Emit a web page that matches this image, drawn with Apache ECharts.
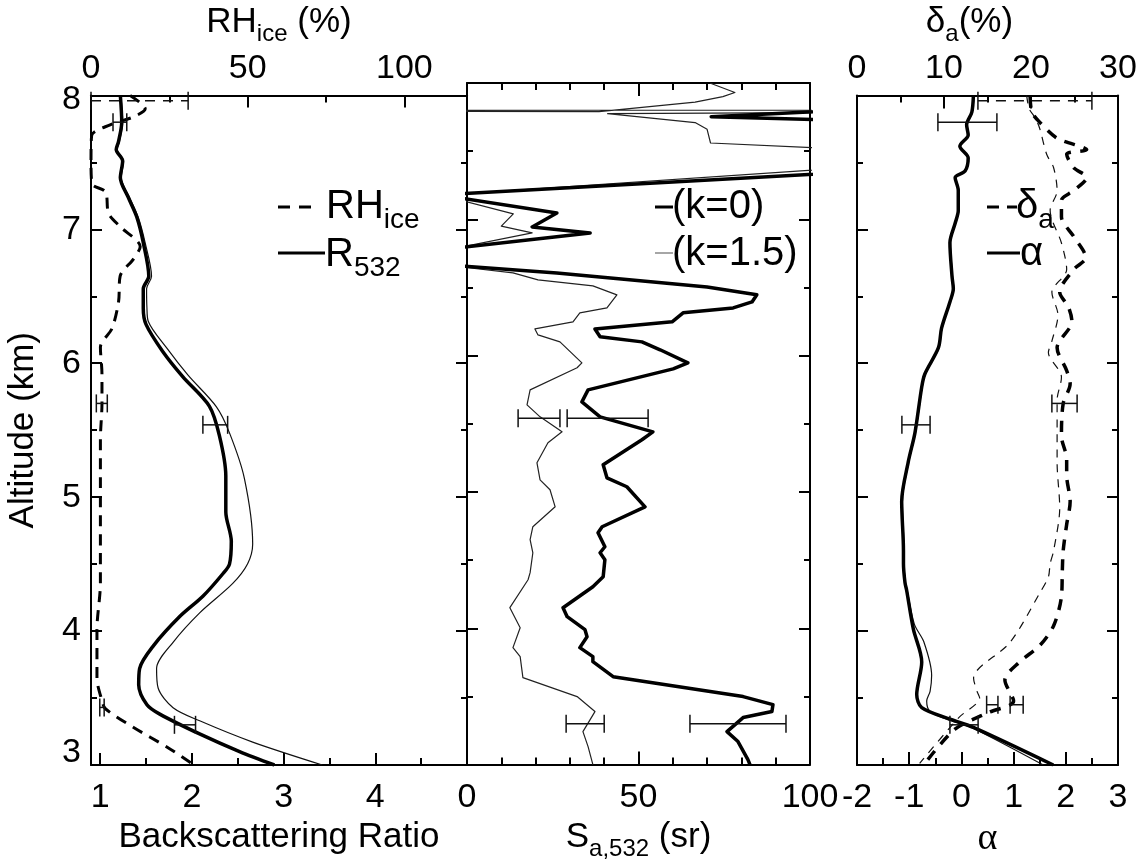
<!DOCTYPE html>
<html>
<head>
<meta charset="utf-8">
<title>Lidar profiles</title>
<script src="https://cdn.jsdelivr.net/npm/echarts@6/dist/echarts.min.js"></script>
<style>
  html, body { margin: 0; padding: 0; background: #fff; }
  #chart { width: 1142px; height: 866px; }
</style>
</head>
<body>
<div id="chart"></div>
<script>
// ---- Panel 1: backscattering ratio R532 and RH over ice, pairs are [value, altitude km]
const R532_K0 = [[1.22,8.0],[1.235,7.80],[1.20,7.655],[1.175,7.596],[1.245,7.51],[1.22,7.386],[1.305,7.24],[1.40,7.09],[1.47,6.90],[1.53,6.65],[1.47,6.556],[1.47,6.41],[1.50,6.29],[1.68,6.09],[1.90,5.90],[2.19,5.68],[2.30,5.46],[2.37,5.16],[2.37,4.89],[2.43,4.67],[2.41,4.50],[2.34,4.43],[2.12,4.26],[1.87,4.11],[1.58,3.89],[1.43,3.72],[1.42,3.60],[1.51,3.45],[1.65,3.38],[2.09,3.23],[2.52,3.10],[2.90,3.0]];
const R532_K15 = [[1.225,8.0],[1.245,7.80],[1.21,7.655],[1.185,7.596],[1.255,7.51],[1.23,7.386],[1.32,7.24],[1.415,7.09],[1.49,6.90],[1.56,6.65],[1.506,6.556],[1.51,6.41],[1.524,6.314],[1.723,6.116],[1.958,5.911],[2.266,5.676],[2.41,5.48],[2.573,5.139],[2.663,4.65],[2.608,4.503],[2.446,4.356],[2.085,4.136],[1.795,3.916],[1.615,3.721],[1.632,3.575],[1.795,3.428],[2.085,3.33],[2.663,3.171],[3.422,3.0]];
const RH_ICE = [[12.5,8.0],[17.3,7.90],[13.6,7.84],[6.1,7.78],[0.2,7.70],[0.0,7.51],[0.3,7.34],[4.6,7.28],[5.6,7.12],[9.3,7.02],[15.7,6.87],[13.6,6.78],[9.3,6.65],[8.8,6.46],[6.7,6.26],[3.0,6.12],[3.5,5.92],[3.5,5.70],[3.0,5.43],[3.0,5.09],[3.0,4.60],[3.0,4.36],[1.9,4.01],[1.9,3.65],[3.5,3.48],[4.6,3.42],[13.6,3.28],[24.2,3.135],[32.2,3.01]];
// error bars: [low, high, altitude]
const R532_ERR = [[1.14,1.29,7.80],[2.12,2.39,5.54],[1.81,2.04,3.30]];
const RH_ERR = [[1.7,5.2,5.70],[2.8,4.2,3.43]];
const RH_ERR_TOP = [[0,31,7.96]];

// ---- Panel 2: lidar ratio Sa,532 (sr)
const SA_K0 = [[150,7.85],[71.2,7.753],[150,7.70],[150,7.40],[-5,7.183],[-3,7.16],[26.2,7.047],[19.0,6.944],[35.9,6.900],[-3,6.79],[-3,6.66],[26.2,6.607],[70.0,6.504],[84.5,6.446],[83.1,6.394],[77.6,6.350],[63.0,6.314],[59.8,6.248],[37.3,6.196],[38.8,6.138],[51.0,6.101],[56.3,6.043],[64.4,5.947],[60.1,5.903],[35.3,5.749],[33.5,5.661],[38.8,5.551],[54.2,5.441],[51.0,5.383],[39.7,5.199],[40.8,5.104],[46.6,5.038],[51.9,4.891],[39.4,4.745],[38.2,4.701],[40.2,4.598],[38.8,4.554],[40.2,4.503],[39.7,4.378],[36.7,4.305],[28.0,4.151],[29.2,4.085],[34.4,3.990],[35.0,3.938],[32.9,3.858],[36.7,3.792],[36.7,3.755],[42.6,3.645],[80.5,3.499],[89.2,3.440],[88.9,3.389],[80.5,3.345],[75.8,3.242],[79.0,3.169],[81.9,3.037],[82.5,3.0]];
const SA_K15 = [[70.8,8.0],[78.1,7.93],[74.6,7.90],[66.5,7.86],[38.5,7.79],[-150,7.80],[250,7.80],[41.0,7.775],[66.5,7.71],[70.0,7.66],[71.0,7.56],[150,7.47],[130,7.411],[-10,7.173],[-5,7.16],[13.5,7.04],[10.0,6.95],[19.0,6.90],[-5,6.78],[-5,6.66],[13.4,6.607],[20.7,6.556],[36.7,6.512],[43.7,6.446],[40.8,6.350],[32.9,6.314],[30.9,6.248],[19.8,6.196],[20.7,6.152],[27.1,6.101],[33.5,5.947],[32.1,5.911],[18.4,5.749],[17.5,5.639],[21.3,5.551],[27.7,5.441],[23.6,5.361],[20.4,5.214],[21.3,5.089],[24.2,5.016],[25.7,4.891],[19.2,4.745],[18.4,4.650],[19.2,4.554],[18.4,4.408],[17.8,4.356],[12.5,4.151],[15.5,4.004],[13.4,3.858],[15.5,3.792],[16.3,3.638],[32.1,3.499],[37.3,3.389],[33.8,3.242],[35.3,3.132],[36.7,3.0]];
const SA_ERR_K0 = [[29.2,52.8,5.54],[65.0,93.0,3.30]];
const SA_ERR_K15 = [[14.9,27.1,5.54],[28.9,40.0,3.30]];

// ---- Panel 3: Angstrom exponent alpha and depolarization delta_a (%)
const ALPHA_K0 = [[0.23,8.0],[0.20,7.875],[0.10,7.78],[0.13,7.705],[-0.03,7.62],[0.13,7.533],[0.07,7.435],[-0.12,7.386],[-0.06,7.29],[-0.06,7.14],[-0.12,7.045],[-0.22,6.90],[-0.18,6.65],[-0.155,6.556],[-0.22,6.458],[-0.38,6.262],[-0.44,6.116],[-0.70,5.92],[-0.76,5.823],[-0.89,5.48],[-1.02,5.26],[-1.144,4.968],[-1.11,4.60],[-1.11,4.503],[-1.08,4.36],[-1.05,4.307],[-0.92,4.014],[-0.76,3.77],[-0.856,3.526],[-0.76,3.428],[-0.218,3.342],[0.23,3.281],[1.76,3.0]];
const ALPHA_K15 = [[0.24,8.0],[0.21,7.875],[0.11,7.78],[0.14,7.705],[-0.02,7.62],[0.14,7.533],[0.08,7.435],[-0.11,7.386],[-0.05,7.29],[-0.05,7.14],[-0.11,7.045],[-0.21,6.90],[-0.17,6.65],[-0.145,6.556],[-0.21,6.458],[-0.37,6.262],[-0.43,6.116],[-0.69,5.92],[-0.75,5.823],[-0.88,5.48],[-1.01,5.26],[-1.13,4.968],[-1.10,4.60],[-1.10,4.503],[-1.07,4.36],[-1.04,4.307],[-0.90,4.05],[-0.72,3.92],[-0.57,3.67],[-0.60,3.55],[-0.665,3.477],[-0.60,3.40],[-0.20,3.33],[0.22,3.275],[1.57,3.0]];
const DELTA_K0 = [[19.9,7.99],[20.1,7.875],[21.0,7.80],[23.0,7.68],[26.4,7.594],[24.1,7.56],[24.9,7.46],[26.4,7.387],[24.9,7.289],[23.5,7.216],[23.5,7.093],[24.9,6.947],[26.3,6.788],[24.9,6.70],[23.3,6.53],[24.3,6.42],[24.7,6.312],[23.0,6.116],[24.1,5.945],[24.5,5.847],[23.7,5.70],[23.5,5.456],[24.1,5.285],[24.1,5.163],[24.5,4.968],[24.1,4.796],[23.7,4.60],[23.6,4.45],[23.5,4.259],[22.6,4.04],[21.0,3.892],[18.7,3.77],[17.0,3.635],[18.0,3.477],[15.1,3.391],[11.3,3.269],[7.8,3.012]];
const DELTA_K15 = [[19.5,8.0],[19.8,7.90],[20.5,7.83],[21.0,7.753],[21.8,7.56],[22.6,7.46],[23.0,7.289],[22.2,7.142],[23.5,6.898],[24.1,6.70],[22.4,6.53],[23.1,6.36],[22.4,6.165],[22.0,6.08],[23.5,5.896],[23.0,5.725],[23.0,5.505],[23.0,5.26],[23.3,4.919],[22.6,4.60],[22.2,4.503],[22.0,4.405],[21.0,4.283],[17.6,3.916],[13.4,3.648],[13.8,3.55],[14.1,3.501],[11.7,3.354],[7.2,3.012]];
const ALPHA_ERR = [[-0.45,0.68,7.80],[-1.14,-0.60,5.54],[-0.22,0.32,3.30]];
const DELTA_ERR = [[22.4,25.3,5.70],[14.9,16.2,3.45],[17.6,19.1,3.45]];
const DELTA_ERR_TOP = [[13.9,27.0,7.96]];

// ---- tick positions
const R_TICKS = [1, 2, 3, 4, 5];
const R_LABELS = [1, 2, 3, 4];
const R_MINOR = [1.5, 2.5, 3.5, 4.5];
const RH_TICKS = [0, 50, 100];
const RH_MINOR = [25, 75];

const FONT = "'Liberation Sans', Arial, Helvetica, sans-serif";
const BLACK = '#000';
const LINE = { show: true, onZero: false, lineStyle: { color: BLACK, width: 2 } };
const TICK = (len, extra) => Object.assign({ show: true, inside: true, length: len, lineStyle: { color: BLACK, width: 2 } }, extra || {});
const MINOR = (n) => ({ show: true, splitNumber: n, length: 7, lineStyle: { color: BLACK, width: 2 } });
const LABEL = (margin, extra) => Object.assign({ show: true, margin: margin, fontSize: 34, color: BLACK, fontFamily: FONT }, extra || {});
// axis titles: main text plus a lowered, smaller subscript
const NAME_STYLE = {
  fontSize: 35, color: BLACK, fontFamily: FONT,
  rich: {
    m: { fontSize: 35, lineHeight: 48, fontFamily: FONT, color: BLACK },
    s: { fontSize: 24, verticalAlign: 'bottom', fontFamily: FONT, color: BLACK }
  }
};
const OFF = { show: false };

const chart = echarts.init(document.getElementById('chart'), null, { renderer: 'canvas' });

function yAxes(gi) {
  const common = { gridIndex: gi, type: 'value', min: 3, max: 8, interval: 1, axisLine: LINE, axisTick: TICK(11), minorTick: Object.assign(MINOR(2), { length: 6 }), splitLine: OFF, minorSplitLine: OFF };
  const left = Object.assign({}, common, { position: 'left', axisLabel: OFF });
  const right = Object.assign({}, common, { position: 'right', axisLabel: OFF });
  return [left, right];
}

const yAxisList = [];
yAxes(0).forEach(a => yAxisList.push(a));
yAxes(1).forEach(a => yAxisList.push(a));
yAxes(2).forEach(a => yAxisList.push(a));
// left axis of the first panel carries the altitude labels
yAxisList[0].axisLabel = LABEL(10, {
  formatter: v => v === 8 ? '{hi|8}' : (v === 3 ? '{lo|3}' : String(v)),
  rich: {
    hi: { fontSize: 34, fontFamily: FONT, color: BLACK, padding: [8, 0, 0, 0] },
    lo: { fontSize: 34, fontFamily: FONT, color: BLACK, padding: [0, 0, 24, 0] }
  }
});
yAxisList[0].name = 'Altitude (km)';
yAxisList[0].nameLocation = 'middle';
yAxisList[0].nameRotate = 90;
yAxisList[0].nameGap = 50;
yAxisList[0].nameTextStyle = { fontSize: 35, color: BLACK, fontFamily: FONT };

const xAxisList = [
  // panel 1 bottom: backscattering ratio
  { gridIndex: 0, type: 'value', position: 'bottom', min: 0.9, max: 5, axisLine: LINE,
    axisTick: TICK(12, { customValues: R_TICKS }), axisLabel: LABEL(16, { customValues: R_LABELS }), splitLine: OFF,
    name: 'Backscattering Ratio', nameLocation: 'middle', nameGap: 52,
    nameTextStyle: { fontSize: 35, color: BLACK, fontFamily: FONT } },
  { gridIndex: 0, type: 'value', position: 'bottom', min: 0.9, max: 5, axisLine: OFF,
    axisTick: TICK(7, { customValues: R_MINOR }), axisLabel: OFF, splitLine: OFF },
  // panel 1 top: RH over ice
  { gridIndex: 0, type: 'value', position: 'top', min: 0, max: 120, axisLine: LINE,
    axisTick: TICK(12, { customValues: RH_TICKS }), axisLabel: LABEL(10, { customValues: RH_TICKS }), splitLine: OFF,
    name: '{m|RH}{s|ice}{m| (%)}', nameLocation: 'middle', nameGap: 33, nameTextStyle: NAME_STYLE },
  { gridIndex: 0, type: 'value', position: 'top', min: 0, max: 120, axisLine: OFF,
    axisTick: TICK(7, { customValues: RH_MINOR }), axisLabel: OFF, splitLine: OFF },
  // panel 2: lidar ratio
  { gridIndex: 1, type: 'value', position: 'bottom', min: 0, max: 100, interval: 50, axisLine: LINE,
    axisTick: TICK(13), minorTick: MINOR(5), axisLabel: LABEL(16), splitLine: OFF, minorSplitLine: OFF,
    name: '{m|S}{s|a,532}{m| (sr)}', nameLocation: 'middle', nameGap: 46, nameTextStyle: NAME_STYLE },
  { gridIndex: 1, type: 'value', position: 'top', min: 0, max: 100, interval: 50, axisLine: LINE,
    axisTick: TICK(13), minorTick: MINOR(5), axisLabel: OFF, splitLine: OFF, minorSplitLine: OFF },
  // panel 3 bottom: alpha
  { gridIndex: 2, type: 'value', position: 'bottom', min: -2, max: 3, interval: 1, axisLine: LINE,
    axisTick: TICK(13), minorTick: MINOR(2), axisLabel: LABEL(16), splitLine: OFF, minorSplitLine: OFF,
    name: 'α', nameLocation: 'middle', nameGap: 50,
    nameTextStyle: { fontSize: 38, color: BLACK, fontFamily: "'Liberation Serif', 'DejaVu Serif', serif" } },
  // panel 3 top: depolarization
  { gridIndex: 2, type: 'value', position: 'top', min: 0, max: 30, interval: 10, axisLine: LINE,
    axisTick: TICK(13), minorTick: MINOR(2), axisLabel: LABEL(10), splitLine: OFF, minorSplitLine: OFF,
    name: '{m|δ}{s|a}{m|(%)}', nameLocation: 'middle', nameGap: 31,
    nameTextStyle: Object.assign({}, NAME_STYLE, { padding: [0, 36, 0, 0] }) }
];

function lineSeries(data, xi, yi, width, color, dash, smooth) {
  return {
    type: 'line', data: data, xAxisIndex: xi, yAxisIndex: yi,
    symbol: 'none', showSymbol: false, smooth: smooth || false, clip: true,
    lineStyle: { color: color, width: width, type: dash || 'solid', cap: 'butt', join: 'round' },
    silent: true, z: 3
  };
}

function errorBars(data, xi, yi, dash) {
  return {
    type: 'custom', data: data, xAxisIndex: xi, yAxisIndex: yi, silent: true, z: 4,
    encode: { x: [0, 1], y: 2 },
    renderItem: function (params, api) {
      const lo = api.coord([api.value(0), api.value(2)]);
      const hi = api.coord([api.value(1), api.value(2)]);
      const h = 9;
      const st = { stroke: '#111', lineWidth: 1.5, lineDash: dash || null };
      return {
        type: 'group', children: [
          { type: 'line', shape: { x1: lo[0], y1: lo[1], x2: hi[0], y2: hi[1] }, style: st },
          { type: 'line', shape: { x1: lo[0], y1: lo[1] - h, x2: lo[0], y2: lo[1] + h }, style: { stroke: '#111', lineWidth: 1.5 } },
          { type: 'line', shape: { x1: hi[0], y1: hi[1] - h, x2: hi[0], y2: hi[1] + h }, style: { stroke: '#111', lineWidth: 1.5 } }
        ]
      };
    }
  };
}

const series = [
  lineSeries(R532_K15, 0, 0, 1.2, '#111', null, 0.3),
  lineSeries(R532_K0, 0, 0, 3.5, BLACK, null, 0.3),
  lineSeries(RH_ICE, 2, 0, 3, BLACK, [11, 8], 0.3),
  errorBars(R532_ERR, 0, 0),
  errorBars(RH_ERR, 2, 0),
  errorBars(RH_ERR_TOP, 2, 0, [10, 8]),

  lineSeries(SA_K15, 4, 2, 1.2, '#222'),
  lineSeries(SA_K0, 4, 2, 3.5, BLACK),
  errorBars(SA_ERR_K0, 4, 2),
  errorBars(SA_ERR_K15, 4, 2),

  lineSeries(ALPHA_K15, 6, 4, 1.2, '#111', null, 0.3),
  lineSeries(ALPHA_K0, 6, 4, 3.5, BLACK, null, 0.3),
  lineSeries(DELTA_K15, 7, 4, 1.2, '#111', [8, 7], 0.3),
  lineSeries(DELTA_K0, 7, 4, 3.5, BLACK, [11, 9], 0.3),
  errorBars(ALPHA_ERR, 6, 4),
  errorBars(DELTA_ERR, 7, 4),
  errorBars(DELTA_ERR_TOP, 7, 4, [10, 8])
];

// legend entries drawn as graphic elements
const LEG_RICH = {
  m: { fontSize: 40, lineHeight: 54, fontFamily: FONT, fill: BLACK },
  s: { fontSize: 28, verticalAlign: 'bottom', fontFamily: FONT, fill: BLACK }
};
function legLine(x1, x2, y, width, color, dash) {
  return { type: 'line', shape: { x1: x1, y1: y, x2: x2, y2: y }, style: { stroke: color, lineWidth: width, lineDash: dash || null }, silent: true };
}
function legText(x, y, text) {
  return { type: 'text', x: x, y: y, style: { text: text, rich: LEG_RICH, fontSize: 40, fontFamily: FONT, fill: BLACK, align: 'left', verticalAlign: 'middle' }, silent: true };
}

const graphics = [
  legLine(278, 313, 207, 3, BLACK, [12, 9]),
  legText(326, 207, '{m|RH}{s|ice}'),
  legLine(278, 325, 253, 3, BLACK),
  legText(325, 255, '{m|R}{s|532}'),

  legLine(655, 673, 207, 3, BLACK),
  legText(672, 207, '{m|(k=0)}'),
  legLine(655, 673, 253, 1.5, '#888'),
  legText(672, 254, '{m|(k=1.5)}'),

  legLine(987, 1017, 207, 3, BLACK, [12, 8]),
  legText(1016, 207, '{m|δ}{s|a}'),
  legLine(987, 1020, 253, 3, BLACK),
  legText(1020, 254, '{m|α}')
];

chart.setOption({
  animation: false,
  backgroundColor: '#fff',
  textStyle: { fontFamily: FONT, color: BLACK },
  grid: [
    { left: 91, top: 83, width: 376, height: 682, containLabel: false },
    { left: 467, top: 83, width: 343, height: 682, containLabel: false },
    { left: 857, top: 83, width: 261, height: 682, containLabel: false }
  ],
  xAxis: xAxisList,
  yAxis: yAxisList,
  series: series,
  graphic: graphics
});
</script>
</body>
</html>
